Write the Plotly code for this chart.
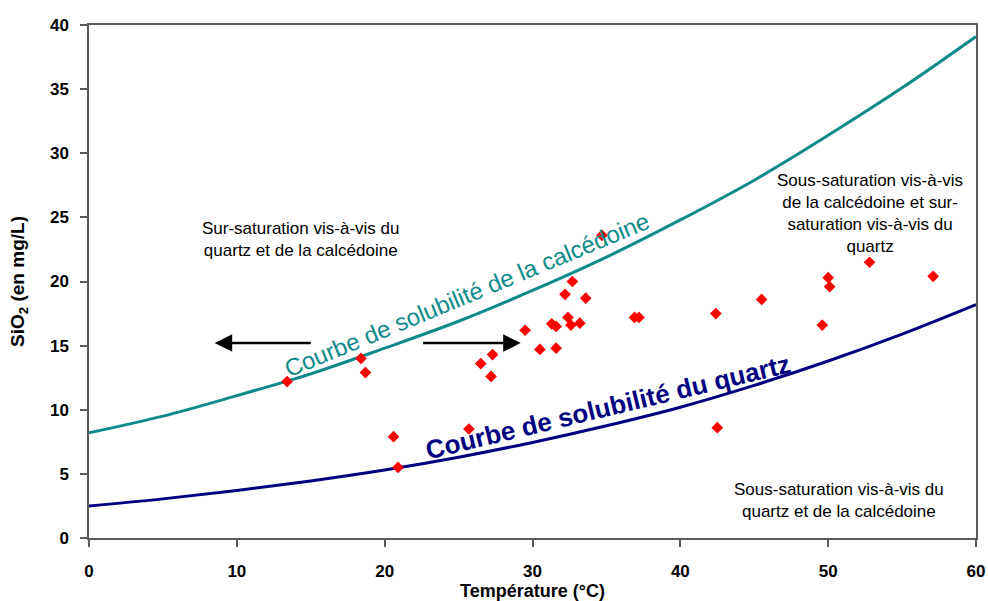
import plotly.graph_objects as go

# Solubility curves (temperature in °C, SiO2 in mg/L)
curve_temp = [0, 5, 10, 15, 20, 25, 30, 35, 40, 45, 50, 55, 60]
calcedoine_sio2 = [8.2, 9.5, 11.1, 12.8, 14.8, 16.9, 19.3, 21.9, 24.8, 27.9, 31.4, 35.1, 39.1]
quartz_sio2 = [2.5, 3.05, 3.7, 4.45, 5.3, 6.3, 7.45, 8.75, 10.2, 11.9, 13.8, 15.9, 18.2]

# Sampled waters
sample_temp = [13.4, 18.4, 18.7, 20.6, 20.9, 25.7, 26.5, 27.2, 27.3, 29.5, 30.5,
               31.3, 31.6, 31.6, 32.2, 32.4, 32.6, 32.7, 33.2, 33.6, 34.7, 36.9,
               37.2, 42.4, 42.5, 45.5, 49.6, 50.0, 50.1, 52.8, 57.1]
sample_sio2 = [12.2, 14.0, 12.9, 7.9, 5.5, 8.5, 13.6, 12.6, 14.3, 16.2, 14.7,
               16.7, 16.5, 14.8, 19.0, 17.2, 16.6, 20.0, 16.75, 18.7, 23.6, 17.2,
               17.2, 17.5, 8.6, 18.6, 16.6, 20.3, 19.6, 21.5, 20.4]

x_ticks = [0, 10, 20, 30, 40, 50, 60]
y_ticks = [0, 5, 10, 15, 20, 25, 30, 35, 40]

FONT = "Arial, Liberation Sans, sans-serif"
TEAL = "#0f8a8a"
NAVY = "#000080"

fig = go.Figure()
fig.add_trace(go.Scatter(x=curve_temp, y=calcedoine_sio2, mode="lines",
                         line=dict(color=TEAL, width=3, shape="spline"),
                         hoverinfo="skip", showlegend=False))
fig.add_trace(go.Scatter(x=curve_temp, y=quartz_sio2, mode="lines",
                         line=dict(color=NAVY, width=3, shape="spline"),
                         hoverinfo="skip", showlegend=False))
fig.add_trace(go.Scatter(x=sample_temp, y=sample_sio2, mode="markers",
                         marker=dict(symbol="diamond", size=9, color="#ff0000",
                                     line=dict(width=0)),
                         showlegend=False))

region_font = dict(family=FONT, size=17, color="#000000")
annotations = [
    dict(x=14.3, y=23.3, text="Sur-saturation vis-à-vis du<br>quartz et de la calcédoine",
         showarrow=False, font=region_font, align="center"),
    dict(x=52.8, y=25.3,
         text="Sous-saturation vis-à-vis<br>de la calcédoine et sur-<br>saturation vis-à-vis du<br>quartz",
         showarrow=False, font=region_font, align="center"),
    dict(x=50.7, y=2.95, text="Sous-saturation vis-à-vis du<br>quartz et de la calcédoine",
         showarrow=False, font=region_font, align="center"),
    dict(x=25.6, y=18.95, text="Courbe de solubilité de la calcédoine",
         showarrow=False, textangle=-22.5,
         font=dict(family=FONT, size=24, color=TEAL)),
    dict(x=35.1, y=10.2, text="Courbe de solubilité du quartz",
         showarrow=False, textangle=-13.5,
         font=dict(family=FONT, size=26, color=NAVY, weight="bold")),
    # direction arrows
    dict(x=8.5, y=15.2, ax=15.1, ay=15.2, xref="x", yref="y", axref="x", ayref="y",
         text="", showarrow=True, arrowhead=2, arrowsize=1.4, arrowwidth=2.5,
         arrowcolor="#000000"),
    dict(x=29.2, y=15.2, ax=22.5, ay=15.2, xref="x", yref="y", axref="x", ayref="y",
         text="", showarrow=True, arrowhead=2, arrowsize=1.4, arrowwidth=2.5,
         arrowcolor="#000000"),
]

axis_common = dict(showgrid=False, zeroline=False, showline=True, linewidth=1.5,
                   linecolor="#5a5a5a", mirror=True, ticks="outside", ticklen=7,
                   tickwidth=1.5, tickcolor="#5a5a5a", automargin=False,
                   tickfont=dict(family=FONT, size=17, color="#000000", weight="bold"))

fig.update_layout(
    width=988, height=601,
    margin=dict(l=89, r=12, t=25, b=63),
    plot_bgcolor="#ffffff", paper_bgcolor="#ffffff",
    annotations=annotations,
    xaxis=dict(range=[0, 60], tickvals=x_ticks, ticklabelstandoff=10,
               title=dict(text="Température (°C)", standoff=4,
                          font=dict(family=FONT, size=18, color="#000000", weight="bold")),
               **axis_common),
    yaxis=dict(range=[0, 40], tickvals=y_ticks, ticklabelstandoff=8,
               title=dict(text="SiO<sub>2</sub> (en mg/L)", standoff=20,
                          font=dict(family=FONT, size=19, color="#000000", weight="bold")),
               **axis_common),
)

fig.write_html("out.html")
